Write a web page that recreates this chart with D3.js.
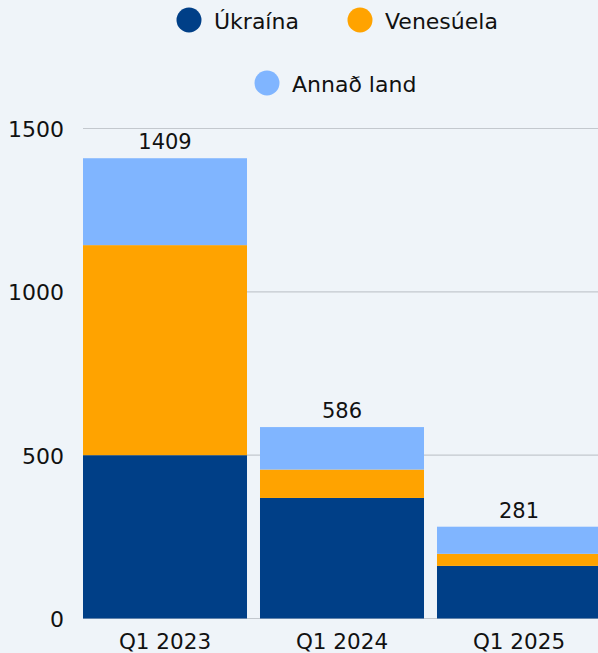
<!DOCTYPE html>
<html><head><meta charset="utf-8">
<script src="https://cdn.jsdelivr.net/npm/d3@7"></script>
<style>
html,body{margin:0;padding:0;background:#EFF4F9;}
svg{display:block;}
text{font-family:"DejaVu Sans",sans-serif;fill:#111;}
</style></head><body>
<svg id="c" width="598" height="653"></svg>
<script>
const categories = ["Q1 2023", "Q1 2024", "Q1 2025"];
const seriesNames = ["Úkraína", "Venesúela", "Annað land"];
const ukraina = [500, 369, 161];
const venesuela = [643, 87, 37];
const annad = [266, 130, 83];
const totals = [1409, 586, 281];
const yTicks = [0, 500, 1000, 1500];
const colors = ["#003F87", "#FFA300", "#80B5FF"];

const svg = d3.select("#c");
svg.append("rect").attr("width", 598).attr("height", 653).attr("fill", "#EFF4F9");

const x = d3.scaleBand().domain(categories).range([83, 601]).paddingInner(0.0734).paddingOuter(0);
const y = d3.scaleLinear().domain([0, 1500]).range([618.5, 128.5]);

// gridlines
svg.append("g").selectAll("line").data(yTicks).join("line")
  .attr("x1", 83).attr("x2", 598)
  .attr("y1", d => y(d)).attr("y2", d => y(d))
  .attr("stroke", "#C3C8CE").attr("stroke-width", 1.2);

// y tick labels
svg.append("g").selectAll("text").data(yTicks).join("text")
  .attr("x", 64).attr("y", d => y(d) + 1)
  .attr("text-anchor", "end").attr("dominant-baseline", "central")
  .style("font-size", "22px").text(d => d);

// stacked bars
const table = categories.map((c, i) => ({cat: c, "Úkraína": ukraina[i], "Venesúela": venesuela[i], "Annað land": annad[i]}));
const stack = d3.stack().keys(seriesNames)(table);
svg.append("g").selectAll("g").data(stack).join("g")
  .attr("fill", (d, i) => colors[i])
  .selectAll("rect").data(d => d).join("rect")
  .attr("x", d => x(d.data.cat))
  .attr("width", x.bandwidth())
  .attr("y", d => y(d[1]))
  .attr("height", d => y(d[0]) - y(d[1]));

// total labels
svg.append("g").selectAll("text").data(categories).join("text")
  .attr("x", d => x(d) + x.bandwidth() / 2)
  .attr("y", (d, i) => y(totals[i]) - 9)
  .attr("text-anchor", "middle")
  .style("font-size", "21px").text((d, i) => totals[i]);

// x labels
svg.append("g").selectAll("text").data(categories).join("text")
  .attr("x", d => x(d) + x.bandwidth() / 2)
  .attr("y", 649)
  .attr("text-anchor", "middle")
  .style("font-size", "21.5px").text(d => d);

// legend
const legendPos = [{cx: 189, cy: 20}, {cx: 360, cy: 20}, {cx: 267, cy: 83}];
const lg = svg.append("g").selectAll("g").data(seriesNames).join("g");
lg.append("circle").attr("cx", (d, i) => legendPos[i].cx).attr("cy", (d, i) => legendPos[i].cy)
  .attr("r", 12.5).attr("fill", (d, i) => colors[i]);
lg.append("text").attr("x", (d, i) => legendPos[i].cx + 25).attr("y", (d, i) => legendPos[i].cy + 1)
  .attr("dominant-baseline", "central")
  .style("font-size", "22px").text(d => d);
</script></body></html>
